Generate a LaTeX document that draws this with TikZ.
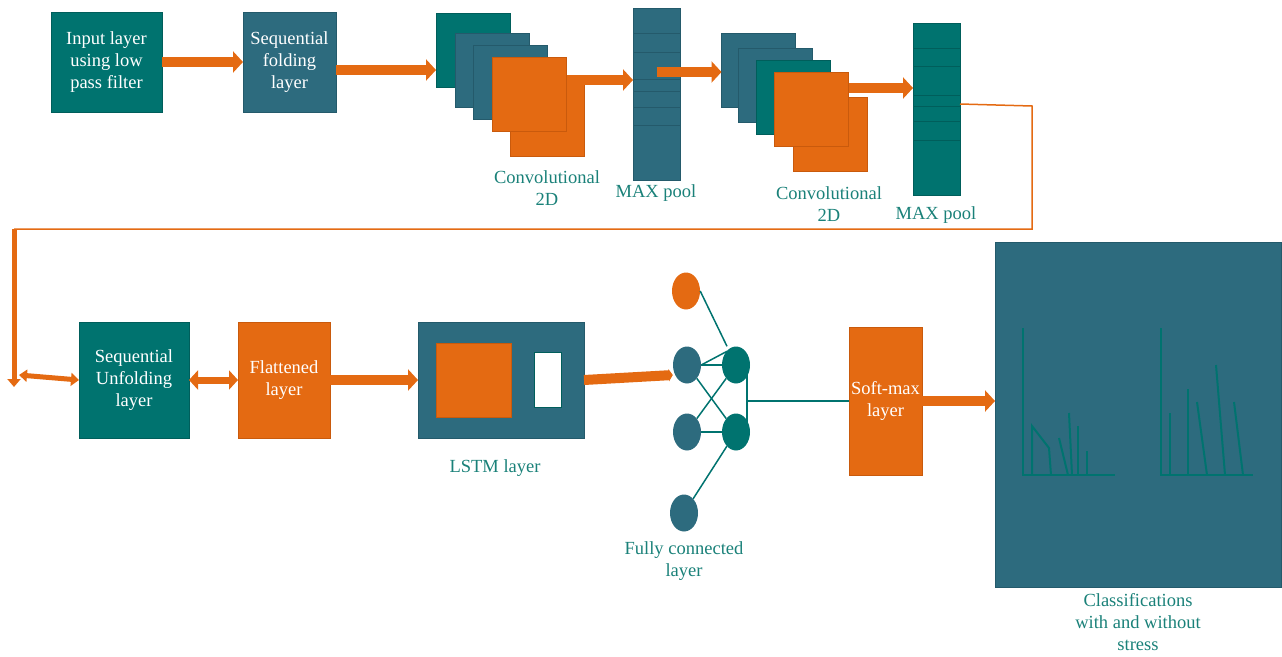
\documentclass[tikz,border=0pt]{standalone}
\usepackage{fontspec}
\setmainfont{Liberation Serif}
\usetikzlibrary{arrows.meta,shapes.geometric}
\definecolor{NetTeal}{HTML}{00736F}
\definecolor{NetBlue}{HTML}{2D6B7E}
\definecolor{NetOrange}{HTML}{E46A12}
\definecolor{NetTealDark}{HTML}{005E5B}
\definecolor{NetBlueDark}{HTML}{245A6B}
\definecolor{NetOrangeDark}{HTML}{C95A0C}
\definecolor{LabelTeal}{HTML}{1A8179}

\begin{document}
\begin{tikzpicture}[x=1pt,y=-1pt,font=\fontsize{18.5}{22}\selectfont,
  box/.style={inner sep=0pt,outer sep=0pt,align=center,text=white,line width=1pt},
  tealbox/.style={box,fill=NetTeal,draw=NetTealDark},
  bluebox/.style={box,fill=NetBlue,draw=NetBlueDark},
  orbox/.style={box,fill=NetOrange,draw=NetOrangeDark},
  sq/.style={minimum width=74pt,minimum height=74pt},
  lbl/.style={text=LabelTeal,align=center},
  arr/.style={NetOrange,line width=10pt,-{Triangle[length=10pt,width=21pt]}},
  darr/.style={NetOrange,line width=7pt,{Triangle[length=9pt,width=19pt]}-{Triangle[length=9pt,width=19pt]}},
  fcline/.style={NetTeal,line width=1.5pt},
  neuron/.style={ellipse,minimum width=28pt,minimum height=37pt,inner sep=0pt},
  bar/.style={NetTeal,line width=2pt}]
\useasboundingbox (0,0) rectangle (1282,656);
% top row
\node[tealbox,minimum width=111pt,minimum height=100pt] (inp) at (106.5,62) {Input layer\\using low\\pass filter};
\node[bluebox,minimum width=93pt,minimum height=100pt] (fold) at (289.5,62) {Sequential\\folding\\layer};
\node[orbox,sq] (c1e) at (547.5,119) {};
\node[tealbox,sq] (c1a) at (473,50) {};
\node[bluebox,sq] (c1b) at (492.5,70) {};
\node[bluebox,sq] (c1c) at (510.5,82.5) {};
\node[orbox,sq] (c1d) at (529.5,94) {};
\node[bluebox,minimum width=47pt,minimum height=172pt] (mp1) at (656.5,94) {};
\foreach \y in {33,52,79,91,107,125} \draw[NetBlueDark,line width=1pt] (mp1.west |- 0,\y) -- (mp1.east |- 0,\y);
\node[orbox,sq] (c2e) at (830,134) {};
\node[bluebox,sq] (c2a) at (758.5,70) {};
\node[bluebox,sq] (c2b) at (775,85) {};
\node[tealbox,sq] (c2c) at (793,97) {};
\node[orbox,sq] (c2d) at (811.5,109) {};
\node[tealbox,minimum width=47pt,minimum height=172pt] (mp2) at (936.5,109) {};
\foreach \y in {48,66,95,106,121,140} \draw[NetTealDark,line width=1pt] (mp2.west |- 0,\y) -- (mp2.east |- 0,\y);
\node[lbl] (c1lbl) at (547,188) {Convolutional\\2D};
\node[lbl] (mp1lbl) at (656,193) {MAX pool};
\node[lbl] (c2lbl) at (829,204) {Convolutional\\2D};
\node[lbl] (mp2lbl) at (936,215) {MAX pool};
\draw[arr] (inp.east) -- (fold.west);
\draw[arr] ([yshift=-8pt]fold.east) -- ([yshift=-20pt]c1a.west);
\draw[arr] ([yshift=14pt]c1d.east) -- ([yshift=14pt]mp1.west);
\draw[arr] ([yshift=22pt]mp1.center) -- ([yshift=-2pt]c2a.west);
\draw[arr] ([yshift=21pt]c2d.east) -- ([yshift=21pt]mp2.west);
% bottom row
\node[tealbox,minimum width=110pt,minimum height=116pt] (unf) at (134,380) {Sequential\\Unfolding\\layer};
\node[orbox,minimum width=92pt,minimum height=116pt] (flat) at (284,380) {Flattened\\layer};
\node[bluebox,minimum width=166pt,minimum height=116pt] (lstm) at (501,380) {};
\node[orbox,minimum width=75pt,minimum height=74pt] (cell) at (473.5,380) {};
\node[box,fill=white,draw=NetTealDark,minimum width=27pt,minimum height=55pt] (gate) at (547.5,379.5) {};
\node[lbl] (lstmlbl) at (495,468) {LSTM layer};
\coordinate (r1) at (1032,106);
\coordinate (r2) at (1032,229);
\coordinate (l1) at (14,229);
\coordinate (l2) at (14,387);
\coordinate (l3) at (19,375);
\draw[NetOrange,line width=1.5pt] ([yshift=5pt]mp2.east) -- (r1) -- (r2) -- (l1);
\draw[NetOrange,line width=5pt,-{Triangle[length=8pt,width=13pt]}] (l1) -- (l2);
\draw[NetOrange,line width=5pt,{Triangle[length=8pt,width=12pt]}-{Triangle[length=8pt,width=13pt]}] (l3) -- (unf.west);
\draw[darr] (unf.east) -- (flat.west);
\draw[arr] (flat.east) -- (lstm.west);
% fully connected
\node[neuron,fill=NetOrange] (o) at (686,291) {};
\node[neuron,fill=NetBlue] (b1) at (687,365) {};
\node[neuron,fill=NetBlue] (b2) at (687,432) {};
\node[neuron,fill=NetBlue] (b3) at (684,513) {};
\node[neuron,fill=NetTeal] (t1) at (736,365) {};
\node[neuron,fill=NetTeal] (t2) at (736,432) {};
\node[lbl] (fclbl) at (684,561) {Fully connected\\layer};
\draw[arr,-{Triangle[length=4pt,width=12pt]}] (lstm.east) -- ([yshift=-10pt]b1.west);
\draw[fcline] (o.east) -- ([xshift=-9pt]t1.north);
\draw[fcline] (b1.east) -- (t1.west);
\draw[fcline] (b1.east) -- ([xshift=-9pt,yshift=-5pt]t1.north);
\draw[fcline] (b1) -- (t2);
\draw[fcline] (b2) -- (t1);
\draw[fcline] (b2.east) -- (t2.center);
\draw[fcline] (b3) -- (t2);
\draw[fcline] ([xshift=-3pt]t1.east) -- ([xshift=-3pt]t2.east);
\coordinate (fcj) at (748,401);
% output
\node[orbox,minimum width=73pt,minimum height=148pt] (soft) at (885.5,401) {Soft-max\\layer};
\node[bluebox,minimum width=286pt,minimum height=345pt] (cls) at (1138,414.5) {};
\node[lbl] (clslbl) at (1138,622) {Classifications\\with and without\\stress};
\draw[fcline] (fcj) -- (soft.west);
\draw[arr] (soft.east) -- ([yshift=13.5pt]cls.west);
\draw[bar] (1023,328) -- (1023,475) -- (1115,475);
\draw[bar] (1032,475) -- (1032,426) -- (1049,448) -- (1051,475);
\draw[bar] (1059,438) -- (1068,475);
\draw[bar] (1069,413) -- (1072,475);
\draw[bar] (1078,426) -- (1078,475);
\draw[bar] (1087,451) -- (1087,475);
\draw[bar] (1161,328) -- (1161,475) -- (1253,475);
\draw[bar] (1170,413) -- (1170,475);
\draw[bar] (1188,389) -- (1188,475);
\draw[bar] (1197,402) -- (1207,475);
\draw[bar] (1216,365) -- (1225,475);
\draw[bar] (1234,402) -- (1243,475);
\end{tikzpicture}
\end{document}
